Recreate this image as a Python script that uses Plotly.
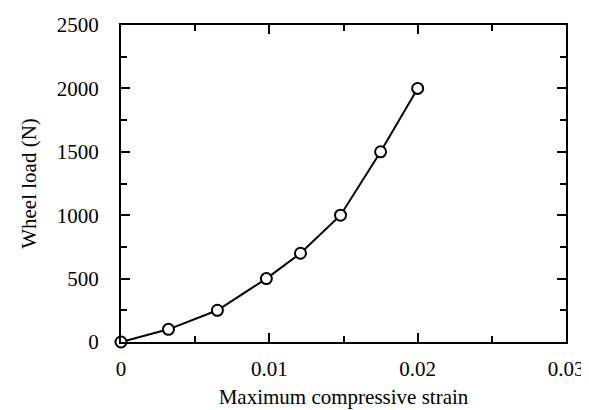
import plotly.graph_objects as go

strain = [0, 0.0032, 0.0065, 0.0098, 0.0121, 0.0148, 0.0175, 0.0200]
load = [0, 100, 250, 500, 700, 1000, 1500, 2000]

FONT = "Liberation Serif, Times New Roman, serif"
FS = 21

fig = go.Figure()
fig.add_trace(go.Scatter(
    x=strain, y=load, mode="lines+markers",
    line=dict(color="black", width=2),
    marker=dict(symbol="circle", size=11, color="white",
                line=dict(color="black", width=2)),
    cliponaxis=False, showlegend=False,
))

axis_common = dict(
    showgrid=False, zeroline=False,
    showline=True, linecolor="black", linewidth=2, mirror="allticks",
    ticks="inside", ticklen=9, tickwidth=1.5, tickcolor="black",
    tickfont=dict(family=FONT, size=FS, color="black"),
)

fig.update_xaxes(
    range=[0, 0.03], tickvals=[0, 0.01, 0.02, 0.03],
    ticktext=["0", "0.01", "0.02", "0.03"],
    minor=dict(dtick=0.005, ticks="inside", ticklen=6, tickwidth=1.5, tickcolor="black", showgrid=False),
    title=dict(text="Maximum compressive strain", font=dict(family=FONT, size=FS, color="black"), standoff=9),
    ticklabelstandoff=7,
    **axis_common,
)
fig.update_yaxes(
    range=[0, 2500], tickvals=[0, 500, 1000, 1500, 2000, 2500],
    minor=dict(dtick=250, ticks="inside", ticklen=6, tickwidth=1.5, tickcolor="black", showgrid=False),
    title=dict(text="Wheel load (N)", font=dict(family=FONT, size=FS, color="black"), standoff=14),
    ticklabelstandoff=16,
    **axis_common,
)

fig.update_layout(
    width=589, height=410,
    margin=dict(l=113, r=31, t=17, b=76, autoexpand=False),
    paper_bgcolor="white", plot_bgcolor="white",
    font=dict(family=FONT, size=FS, color="black"),
)

fig.write_html("out.html")
